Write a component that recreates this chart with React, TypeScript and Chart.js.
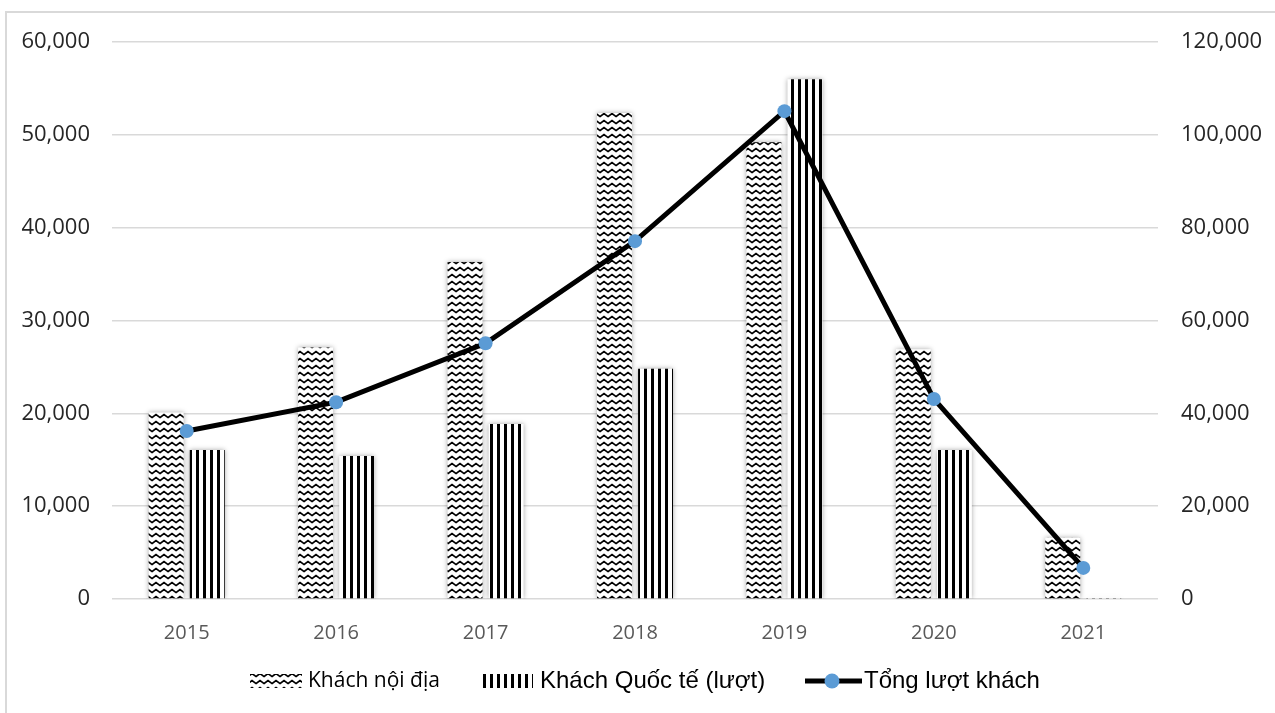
import React, { useEffect, useRef } from "react";
import { Chart, registerables } from "chart.js";

Chart.register(...registerables);

const years = ["2015", "2016", "2017", "2018", "2019", "2020", "2021"];
const domestic = [20100, 27100, 36300, 52350, 49200, 26900, 6600];
const international = [16050, 15400, 18850, 24800, 56000, 16050, 100];
const total = [36200, 42400, 55100, 77100, 105100, 43100, 6700];
const leftTicks = [0, 10000, 20000, 30000, 40000, 50000, 60000];
const rightTicks = [0, 20000, 40000, 60000, 80000, 100000, 120000];
const legendLabels = ["Khách nội địa", "Khách Quốc tế (lượt)", "Tổng lượt khách"];

function makeZigzag(ctx: CanvasRenderingContext2D) {
  const c = document.createElement("canvas");
  c.width = 8;
  c.height = 7;
  const g = c.getContext("2d")!;
  g.fillStyle = "#ffffff";
  g.fillRect(0, 0, 8, 7);
  g.strokeStyle = "#000000";
  g.lineWidth = 1.7;
  g.beginPath();
  g.moveTo(-2, 6);
  g.lineTo(0, 4.5);
  g.lineTo(4, 1.5);
  g.lineTo(8, 4.5);
  g.lineTo(10, 3);
  g.stroke();
  return ctx.createPattern(c, "repeat")!;
}

function makeStripes(ctx: CanvasRenderingContext2D) {
  const c = document.createElement("canvas");
  c.width = 7;
  c.height = 2;
  const g = c.getContext("2d")!;
  g.fillStyle = "#ffffff";
  g.fillRect(0, 0, 7, 2);
  g.fillStyle = "#000000";
  g.fillRect(0, 0, 3, 2);
  return ctx.createPattern(c, "repeat")!;
}

export default function App() {
  const ref = useRef<HTMLCanvasElement>(null);

  useEffect(() => {
    document.body.style.margin = "0";
    const canvas = ref.current!;
    const ctx = canvas.getContext("2d")!;
    const zig = makeZigzag(ctx);
    const stripes = makeStripes(ctx);

    const frame = {
      id: "frame",
      beforeDraw(chart: any) {
        const c = chart.ctx;
        c.save();
        c.fillStyle = "#ffffff";
        c.fillRect(0, 0, chart.width, chart.height);
        c.strokeStyle = "#d9d9d9";
        c.lineWidth = 2;
        c.beginPath();
        c.moveTo(6, chart.height);
        c.lineTo(6, 12);
        c.lineTo(chart.width, 12);
        c.stroke();
        c.restore();
      },
      beforeDatasetDraw(chart: any, args: any) {
        if (args.index < 2) {
          chart.ctx.shadowColor = "rgba(0,0,0,0.35)";
          chart.ctx.shadowBlur = 5;
          chart.ctx.shadowOffsetX = 0;
          chart.ctx.shadowOffsetY = 0;
        }
      },
      afterDatasetDraw(chart: any) {
        chart.ctx.shadowColor = "rgba(0,0,0,0)";
        chart.ctx.shadowBlur = 0;
      },
      afterDraw(chart: any) {
        const c = chart.ctx;
        c.save();
        const cy = 681;
        c.textBaseline = "middle";
        // item 1
        c.fillStyle = zig;
        c.fillRect(250, 674, 52, 14);
        c.fillStyle = "#000000";
        c.font = "21px 'Open Sans', sans-serif";
        c.fillText(legendLabels[0], 308, cy);
        // item 2
        c.fillStyle = stripes;
        c.fillRect(482, 674, 51, 14);
        c.fillStyle = "#000000";
        c.font = "24px 'Liberation Sans', Arial, sans-serif";
        c.fillText(legendLabels[1], 540, cy);
        // item 3
        c.strokeStyle = "#000000";
        c.lineWidth = 5;
        c.beginPath();
        c.moveTo(805, cy);
        c.lineTo(862, cy);
        c.stroke();
        c.fillStyle = "#5b9bd5";
        c.beginPath();
        c.arc(832, cy, 7.5, 0, Math.PI * 2);
        c.fill();
        c.fillStyle = "#000000";
        c.font = "24px 'Liberation Sans', Arial, sans-serif";
        c.fillText(legendLabels[2], 864, cy);
        c.restore();
      },
    };

    const xFont = { family: "'Open Sans', sans-serif", size: 20 };
    const yFont = { family: "'Open Sans', sans-serif", size: 22 };

    const chart = new Chart(ctx, {
      type: "bar",
      data: {
        labels: years,
        datasets: [
          {
            type: "bar",
            label: legendLabels[0],
            data: domestic,
            backgroundColor: zig as any,
            borderWidth: 0,
            yAxisID: "y",
            order: 1,
            categoryPercentage: 0.55,
            barPercentage: 0.85,
          },
          {
            type: "bar",
            label: legendLabels[1],
            data: international,
            backgroundColor: stripes as any,
            borderWidth: 0,
            yAxisID: "y",
            order: 1,
            categoryPercentage: 0.55,
            barPercentage: 0.85,
          },
          {
            type: "line",
            label: legendLabels[2],
            data: total,
            borderColor: "#000000",
            borderWidth: 5,
            pointBackgroundColor: "#5b9bd5",
            pointBorderWidth: 0,
            pointRadius: 7,
            tension: 0,
            yAxisID: "y1",
            order: 0,
          } as any,
        ],
      },
      options: {
        animation: false,
        responsive: false,
        maintainAspectRatio: false,
        layout: { padding: { top: 42, bottom: 54, left: 0, right: 0 } },
        plugins: { legend: { display: false }, tooltip: { enabled: false } },
        scales: {
          x: {
            grid: { display: false },
            border: { display: false },
            ticks: { color: "#595959", font: xFont, padding: 14 },
          },
          y: {
            position: "left",
            min: 0,
            max: 60000,
            afterBuildTicks: (s: any) => {
              s.ticks = leftTicks.map((v) => ({ value: v }));
            },
            afterFit: (s: any) => {
              s.width = 112;
            },
            grid: { color: "#d9d9d9", lineWidth: 1.5, drawTicks: false },
            border: { display: false },
            ticks: {
              color: "#262626",
              font: yFont,
              padding: 22,
              callback: (v: any) => Number(v).toLocaleString("en-US"),
            },
          },
          y1: {
            position: "right",
            min: 0,
            max: 120000,
            afterBuildTicks: (s: any) => {
              s.ticks = rightTicks.map((v) => ({ value: v }));
            },
            afterFit: (s: any) => {
              s.width = 117;
            },
            grid: { display: false, drawTicks: false },
            border: { display: false },
            ticks: {
              color: "#262626",
              font: yFont,
              padding: 23,
              callback: (v: any) => Number(v).toLocaleString("en-US"),
            },
          },
        },
      },
      plugins: [frame],
    });
    return () => chart.destroy();
  }, []);

  return (
    <div style={{ width: 1275, height: 713 }}>
      <canvas ref={ref} width={1275} height={713} style={{ display: "block" }} />
    </div>
  );
}
